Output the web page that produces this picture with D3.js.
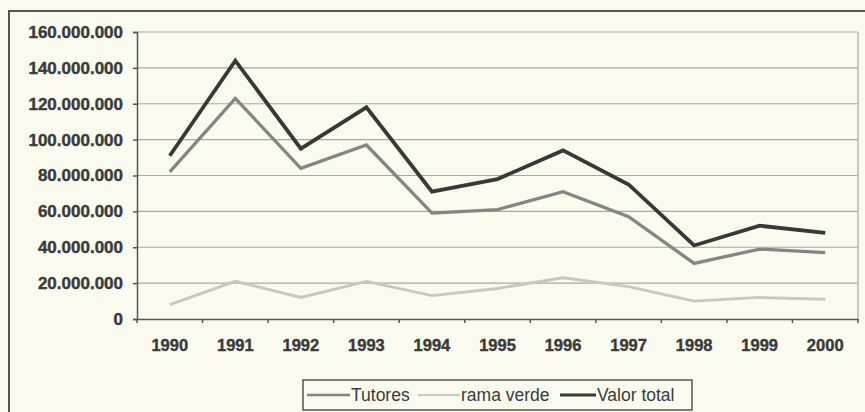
<!DOCTYPE html>
<html><head><meta charset="utf-8">
<script src="https://cdn.jsdelivr.net/npm/d3@7/dist/d3.min.js"></script>
<style>
html,body{margin:0;padding:0;background:#fafaee;}
svg{display:block;}
</style></head>
<body>
<svg id="chart" width="865" height="412"></svg>
<script>
const years = ["1990","1991","1992","1993","1994","1995","1996","1997","1998","1999","2000"];
const tutores = [82000000,123000000,84000000,97000000,59000000,61000000,71000000,57000000,31000000,39000000,37000000];
const ramaVerde = [8000000,21000000,12000000,21000000,13000000,17000000,23000000,18000000,10000000,12000000,11000000];
const valorTotal = [91000000,144000000,95000000,118000000,71000000,78000000,94000000,75000000,41000000,52000000,48000000];
const yTicks = [0,20000000,40000000,60000000,80000000,100000000,120000000,140000000,160000000];
const seriesNames = ["Tutores","rama verde","Valor total"];

(function(){
const svg = d3.select("#chart");
const pl = 137, pr = 858, pt = 32, pb = 319;

// outer frame
svg.append("rect").attr("x",9).attr("y",11).attr("width",880).attr("height",420)
  .attr("fill","#fafaee").attr("stroke","#555").attr("stroke-width",2);

const x = d3.scaleBand().domain(years).range([pl,pr]);
const y = d3.scaleLinear().domain([0,160000000]).range([pb,pt]);

// gridlines
svg.append("g").selectAll("line").data(yTicks.slice(1)).join("line")
  .attr("x1",pl).attr("x2",pr).attr("y1",d=>y(d)).attr("y2",d=>y(d))
  .attr("stroke","#a9a9a0").attr("stroke-width",1.2);
// right border
svg.append("line").attr("x1",pr).attr("x2",pr).attr("y1",pt).attr("y2",pb)
  .attr("stroke","#a9a9a0").attr("stroke-width",1.2);

const fmt = d => d3.format(",")(d).replace(/,/g,".");

// y axis
const yAxis = svg.append("g").attr("transform",`translate(${pl},0)`)
  .call(d3.axisLeft(y).tickValues(yTicks).tickFormat(fmt).tickSize(4).tickPadding(10));
yAxis.select(".domain").attr("stroke","#555").attr("stroke-width",1.5);
yAxis.selectAll(".tick line").attr("stroke","#555").attr("stroke-width",1.5);
yAxis.selectAll("text").attr("font-family","Liberation Sans, Arial, sans-serif")
  .attr("font-size",17).attr("font-weight","bold").attr("fill","#3a3a3a")
  .attr("stroke","#3a3a3a").attr("stroke-width",0.4);

// x axis
const xAxis = svg.append("g").attr("transform",`translate(0,${pb})`)
  .call(d3.axisBottom(x).tickSize(0).tickPadding(20));
xAxis.select(".domain").attr("stroke","#555").attr("stroke-width",1.5);
xAxis.selectAll("text").attr("font-family","Liberation Sans, Arial, sans-serif")
  .attr("font-size",16.5).attr("font-weight","bold").attr("fill","#3a3a3a")
  .attr("stroke","#3a3a3a").attr("stroke-width",0.4);
// category boundary ticks
const bounds = years.map(d=>x(d)).concat([pr]);
svg.append("g").selectAll("line").data(bounds).join("line")
  .attr("x1",d=>d).attr("x2",d=>d).attr("y1",pb).attr("y2",pb+4)
  .attr("stroke","#555").attr("stroke-width",1.5);

const cx = d => x(d) + x.bandwidth()/2;
const line = d3.line().x((v,i)=>cx(years[i])).y(v=>y(v));

const series = [
  {name:seriesNames[1], values:ramaVerde, color:"#c8c8be", w:2.8},
  {name:seriesNames[0], values:tutores, color:"#858585", w:3.3},
  {name:seriesNames[2], values:valorTotal, color:"#383838", w:3.8}
];
svg.append("g").selectAll("path").data(series).join("path")
  .attr("d",d=>line(d.values)).attr("fill","none")
  .attr("stroke",d=>d.color).attr("stroke-width",d=>d.w).attr("stroke-linejoin","miter");

// legend
svg.append("rect").attr("x",303).attr("y",380).attr("width",389).attr("height",30)
  .attr("fill","#fafaee").attr("stroke","#555").attr("stroke-width",1.5);
const legItems = [
  {name:seriesNames[0], color:"#858585", w:2.5, x1:307, x2:350},
  {name:seriesNames[1], color:"#c8c8be", w:2, x1:418, x2:460},
  {name:seriesNames[2], color:"#383838", w:3, x1:560, x2:596}
];
const lg = svg.append("g").selectAll("g").data(legItems).join("g");
lg.append("line").attr("x1",d=>d.x1).attr("x2",d=>d.x2).attr("y1",395).attr("y2",395)
  .attr("stroke",d=>d.color).attr("stroke-width",d=>d.w);
lg.append("text").attr("x",d=>d.x2+1).attr("y",395).attr("dy","0.35em")
  .attr("font-family","Liberation Sans, Arial, sans-serif").attr("font-size",17.5)
  .attr("fill","#3a3a3a").text(d=>d.name);
})();
</script>
</body></html>
